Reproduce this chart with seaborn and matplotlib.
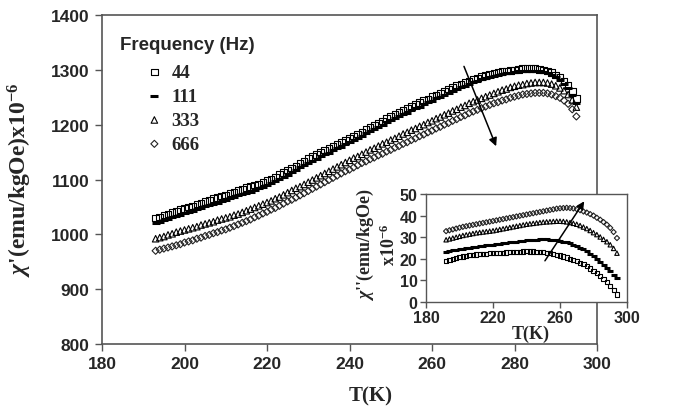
import matplotlib
matplotlib.use("Agg")
import matplotlib.pyplot as plt
import seaborn as sns
import pandas as pd

# Real part chi' vs temperature, one reading per kelvin (193 K ... 295 K)
T_main = list(range(193, 296))
chi1_44 = [1030, 1032, 1035, 1037, 1040, 1042, 1045,
           1047, 1050, 1052, 1055, 1057, 1060, 1062, 1065, 1067, 1070,
           1072, 1075, 1077, 1080, 1082, 1085, 1087, 1090, 1092, 1095,
           1098, 1101, 1105, 1109, 1113, 1117, 1121, 1125, 1130, 1134,
           1138, 1142, 1146, 1150, 1154, 1157, 1161, 1164, 1168, 1171,
           1175, 1179, 1183, 1187, 1191, 1195, 1199, 1203, 1207, 1211,
           1215, 1219, 1222, 1226, 1230, 1233, 1237, 1240, 1244, 1247,
           1251, 1254, 1258, 1261, 1265, 1268, 1271, 1274, 1277, 1280,
           1283, 1285, 1288, 1290, 1292, 1294, 1296, 1297, 1298, 1299,
           1300, 1301, 1302, 1302, 1302, 1302, 1301, 1300, 1298, 1295,
           1291, 1286, 1280, 1272, 1261, 1248]
chi1_111 = [1021, 1023, 1026, 1028, 1031, 1033, 1036,
            1038, 1041, 1043, 1046, 1048, 1051, 1053, 1056, 1058, 1061,
            1063, 1066, 1068, 1071, 1073, 1076, 1078, 1081, 1084, 1087,
            1090, 1093, 1097, 1101, 1105, 1109, 1113, 1117, 1122, 1126,
            1130, 1134, 1138, 1142, 1146, 1149, 1153, 1157, 1160, 1164,
            1168, 1172, 1176, 1180, 1184, 1188, 1192, 1196, 1200, 1204,
            1208, 1212, 1215, 1219, 1222, 1226, 1230, 1233, 1237, 1241,
            1244, 1248, 1251, 1255, 1258, 1262, 1265, 1268, 1271, 1274,
            1277, 1280, 1283, 1285, 1287, 1289, 1291, 1292, 1294, 1295,
            1296, 1297, 1297, 1298, 1298, 1298, 1297, 1296, 1294, 1291,
            1287, 1282, 1275, 1266, 1254, 1240]
chi1_333 = [992, 994, 996, 999, 1001, 1004, 1006,
            1008, 1010, 1012, 1014, 1017, 1019, 1021, 1023, 1026, 1028,
            1030, 1032, 1035, 1037, 1040, 1043, 1046, 1049, 1052, 1055,
            1058, 1061, 1065, 1068, 1072, 1076, 1080, 1084, 1087, 1091,
            1095, 1099, 1103, 1107, 1111, 1115, 1119, 1123, 1127, 1131,
            1135, 1139, 1142, 1146, 1150, 1154, 1157, 1161, 1165, 1168,
            1172, 1175, 1179, 1183, 1186, 1190, 1193, 1197, 1200, 1204,
            1207, 1211, 1214, 1218, 1221, 1225, 1228, 1232, 1235, 1239,
            1242, 1245, 1248, 1251, 1254, 1257, 1260, 1263, 1265, 1268,
            1270, 1272, 1273, 1275, 1276, 1277, 1277, 1277, 1276, 1274,
            1271, 1267, 1262, 1255, 1245, 1232]
chi1_666 = [970, 972, 974, 976, 978, 980, 982,
            985, 987, 989, 992, 994, 997, 999, 1002, 1004, 1007,
            1009, 1012, 1015, 1018, 1021, 1024, 1027, 1031, 1034, 1038,
            1041, 1045, 1048, 1052, 1056, 1060, 1063, 1067, 1071, 1075,
            1079, 1083, 1087, 1091, 1095, 1099, 1103, 1107, 1111, 1115,
            1118, 1122, 1126, 1130, 1133, 1137, 1140, 1144, 1147, 1151,
            1154, 1158, 1161, 1165, 1168, 1172, 1175, 1179, 1182, 1186,
            1189, 1193, 1196, 1200, 1203, 1207, 1210, 1214, 1217, 1221,
            1224, 1227, 1230, 1233, 1236, 1239, 1241, 1244, 1246, 1249,
            1251, 1253, 1255, 1256, 1257, 1258, 1258, 1258, 1257, 1255,
            1252, 1249, 1244, 1238, 1228, 1215]

# Imaginary part chi'' vs temperature, one reading every 2 K (192 K ... 294 K)
T_inset = list(range(192, 296, 2))
chi2_44 = [19.0, 19.5, 20.0, 20.5, 20.8, 21.1, 21.4, 21.6, 21.8, 22.0,
           22.1, 22.3, 22.4, 22.5, 22.5, 22.6, 22.7, 22.8, 22.9, 23.0,
           23.1, 23.2, 23.3, 23.4, 23.5, 23.4, 23.4, 23.3, 23.2, 23.0,
           22.8, 22.5, 22.2, 21.9, 21.5, 21.1, 20.6, 20.1, 19.5, 19.0,
           18.2, 17.4, 16.5, 15.5, 14.5, 13.3, 12.0, 10.7, 9.2, 7.5,
           5.6, 3.5]
chi2_111 = [23.2, 23.5, 23.9, 24.2, 24.5, 24.7, 25.0, 25.2, 25.4, 25.6,
            25.8, 26.0, 26.2, 26.4, 26.6, 26.8, 27.0, 27.2, 27.4, 27.6,
            27.8, 28.0, 28.2, 28.4, 28.5, 28.6, 28.8, 28.9, 29.0, 29.0,
            29.0, 28.9, 28.8, 28.6, 28.3, 28.0, 27.6, 27.2, 26.6, 26.0,
            25.2, 24.4, 23.4, 22.3, 21.1, 19.9, 18.6, 17.3, 15.8, 14.3,
            12.7, 11.0]
chi2_333 = [28.8, 29.2, 29.6, 30.0, 30.4, 30.8, 31.1, 31.4, 31.7, 32.0,
            32.2, 32.4, 32.6, 32.8, 33.0, 33.3, 33.6, 33.9, 34.2, 34.5,
            34.8, 35.1, 35.4, 35.7, 36.0, 36.2, 36.4, 36.6, 36.8, 37.0,
            37.1, 37.2, 37.3, 37.4, 37.4, 37.3, 37.1, 36.8, 36.4, 36.0,
            35.4, 34.7, 34.0, 33.1, 32.1, 31.2, 30.1, 29.0, 27.9, 26.5,
            24.8, 22.6]
chi2_666 = [32.8, 33.2, 33.6, 34.0, 34.4, 34.8, 35.1, 35.4, 35.7, 36.0,
            36.3, 36.6, 36.9, 37.2, 37.5, 37.8, 38.1, 38.4, 38.7, 39.0,
            39.3, 39.6, 39.9, 40.2, 40.5, 40.8, 41.1, 41.4, 41.7, 42.0,
            42.3, 42.6, 42.9, 43.2, 43.4, 43.5, 43.6, 43.5, 43.3, 43.0,
            42.5, 41.9, 41.4, 40.7, 40.0, 39.0, 38.1, 37.0, 35.8, 34.3,
            32.4, 29.6]

freqs = ["44", "111", "333", "666"]
main_series = [chi1_44, chi1_111, chi1_333, chi1_666]
inset_series = [chi2_44, chi2_111, chi2_333, chi2_666]

main_ticks_x = [180, 200, 220, 240, 260, 280, 300]
main_ticks_y = [800, 900, 1000, 1100, 1200, 1300, 1400]
inset_ticks_x = [180, 220, 260, 300]
inset_ticks_y = [0, 10, 20, 30, 40, 50]

sns.set_theme(style="ticks")
plt.rcParams["font.family"] = ["Liberation Sans", "DejaVu Sans"]
plt.rcParams["mathtext.fontset"] = "custom"
plt.rcParams["mathtext.rm"] = "Liberation Serif:bold"
plt.rcParams["mathtext.it"] = "Liberation Serif:italic:bold"
plt.rcParams["mathtext.bf"] = "Liberation Serif:bold"
SERIF = ["Liberation Serif", "DejaVu Serif"]

marker_styles = {
    "44": dict(marker="s", facecolor="none", edgecolor="black", linewidth=0.8),
    "111": dict(marker="_", color="black", linewidth=2.2),
    "333": dict(marker="^", facecolor="none", edgecolor="black", linewidth=0.8),
    "666": dict(marker="D", facecolor="none", edgecolor="#222222", linewidth=0.8),
}
main_sizes = {"44": 22, "111": 30, "333": 22, "666": 13}
inset_sizes = {"44": 9, "111": 14, "333": 10, "666": 7}

W, H = 688, 410
fig = plt.figure(figsize=(W / 100, H / 100), dpi=100)

def px_axes(l, t, r, b):
    return fig.add_axes([l / W, 1 - b / H, (r - l) / W, (b - t) / H])

ax = px_axes(102, 16, 597, 345)
handles = []
for f, vals in zip(freqs, main_series):
    df = pd.DataFrame({"T": T_main, "chi": vals})
    sns.scatterplot(data=df, x="T", y="chi", ax=ax, s=main_sizes[f],
                    legend=False, **marker_styles[f])
    handles.append(ax.collections[-1])

ax.set_xlim(180, 300)
ax.set_ylim(800, 1400)
ax.set_xticks(main_ticks_x)
ax.set_yticks(main_ticks_y)
ax.set_xlabel("")
ax.set_ylabel("")
for lab in ax.get_xticklabels() + ax.get_yticklabels():
    lab.set_fontsize(12.5)
    lab.set_fontweight("bold")
ax.tick_params(direction="out", length=5, width=1, color="#555555", pad=4)
for sp in ax.spines.values():
    sp.set_visible(True)
    sp.set_color("#555555")
    sp.set_linewidth(1.2)

fig.text(20 / W, 1 - 180 / H, r"$\chi$'(emu/kgOe)x10$^{-6}$", rotation=90,
         ha="center", va="center", fontsize=17, fontweight="bold", family=SERIF)
fig.text(371 / W, 1 - 396 / H, "T(K)", ha="center", va="center",
         fontsize=15, fontweight="bold", family=SERIF)

# Legend
fig.text(120 / W, 1 - 45 / H, "Frequency (Hz)", ha="left", va="center",
         fontsize=13.5, fontweight="bold")
leg = ax.legend(handles, freqs, loc="upper left",
                bbox_to_anchor=(145 / W, 1 - 65 / H), bbox_transform=fig.transFigure,
                frameon=False, borderpad=0, borderaxespad=0, handlelength=1.0,
                handletextpad=0.4, labelspacing=0.36,
                prop={"family": SERIF, "weight": "bold", "size": 13.5})

ax.annotate("", xy=(275.8, 1156), xytext=(267.5, 1311),
            arrowprops=dict(arrowstyle="-|>", color="black", lw=1.1, mutation_scale=12))

# Inset: imaginary part
axi = px_axes(426, 195, 627, 303)
for f, vals in zip(freqs, inset_series):
    df = pd.DataFrame({"T": T_inset, "chi": vals})
    sns.scatterplot(data=df, x="T", y="chi", ax=axi, s=inset_sizes[f],
                    legend=False, **marker_styles[f])
axi.set_xlim(180, 300)
axi.set_ylim(0, 50)
axi.set_xticks(inset_ticks_x)
axi.set_yticks(inset_ticks_y)
axi.set_xlabel("")
axi.set_ylabel("")
for lab in axi.get_xticklabels() + axi.get_yticklabels():
    lab.set_fontsize(11.5)
    lab.set_fontweight("bold")
axi.tick_params(direction="out", length=4, width=1, color="#555555", pad=2)
for sp in axi.spines.values():
    sp.set_visible(True)
    sp.set_color("#555555")
    sp.set_linewidth(1.0)

axi.annotate("", xy=(275.4, 47.7), xytext=(250.1, 18),
             arrowprops=dict(arrowstyle="-|>", color="black", lw=1.1, mutation_scale=11))

fig.text(531 / W, 1 - 334 / H, "T(K)", ha="center", va="center",
         fontsize=13, fontweight="bold", family=SERIF)
fig.text(365 / W, 1 - 245 / H, r"$\chi$''(emu/kgOe)", rotation=90,
         ha="center", va="center", fontsize=13, fontweight="bold", family=SERIF)
fig.text(389 / W, 1 - 245 / H, r"x10$^{-6}$", rotation=90,
         ha="center", va="center", fontsize=13, fontweight="bold", family=SERIF)

fig.savefig("out.png", dpi=100, facecolor="white")
